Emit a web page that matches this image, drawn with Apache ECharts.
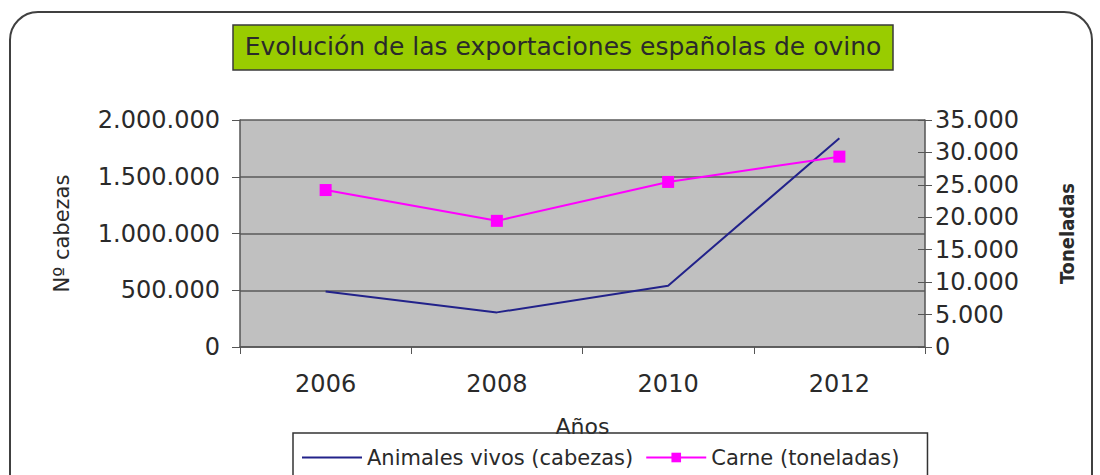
<!DOCTYPE html>
<html>
<head>
<meta charset="utf-8">
<script src="https://cdn.jsdelivr.net/npm/echarts@6/dist/echarts.min.js"></script>
<style>
  html, body { margin: 0; padding: 0; background: #fff; }
  #chart { width: 1100px; height: 475px; }
</style>
</head>
<body>
<div id="chart"></div>
<script>
// datos
const years = ['2006', '2008', '2010', '2012'];
const animalesVivos = [490000, 305000, 540000, 1840000];
const carneToneladas = [24200, 19450, 25450, 29350];
const leftTicks = [0, 2000000, 500000];   // min, max, intervalo
const rightTicks = [0, 35000, 5000];

function puntos(v) {
    return String(v).replace(/\B(?=(\d{3})+(?!\d))/g, '.');
}

const FONT = 'DejaVu Sans';
const TXT = '#2a2a2a';

let option = {
    animation: false,
    backgroundColor: '#fff',
    textStyle: { fontFamily: FONT },
    graphic: [
        {
            type: 'rect', z: -10,
            shape: { x: 10, y: 12, width: 1082, height: 520, r: 28 },
            style: { fill: '#fff', stroke: '#404040', lineWidth: 2 }
        },
        {
            type: 'rect', z: 1,
            shape: { x: 233, y: 25, width: 660, height: 45 },
            style: { fill: '#99cc00', stroke: '#3a3a3a', lineWidth: 1.5 }
        }
    ],
    title: {
        text: 'Evolución de las exportaciones españolas de ovino',
        left: 563,
        top: 34,
        textAlign: 'center',
        padding: 0,
        z: 5,
        textStyle: { fontFamily: FONT, fontSize: 25, fontWeight: 'normal', color: TXT }
    },
    legend: {
        left: 293,
        top: 433,
        padding: [14, 28, 20, 8],
        itemGap: 12,
        itemWidth: 60,
        itemHeight: 12,
        borderColor: '#333',
        borderWidth: 1.5,
        textStyle: { fontFamily: FONT, fontSize: 21, color: TXT },
        data: [
            { name: 'Animales vivos (cabezas)', itemStyle: { color: 'rgba(0,0,0,0)', borderWidth: 0 } },
            'Carne (toneladas)'
        ]
    },
    grid: {
        left: 240, right: 175, top: 120, bottom: 128,
        show: true,
        backgroundColor: '#c0c0c0',
        borderWidth: 0
    },
    xAxis: {
        type: 'category',
        data: years,
        boundaryGap: true,
        name: 'Años',
        nameLocation: 'middle',
        nameGap: 68,
        nameTextStyle: { fontFamily: FONT, fontSize: 22, color: TXT },
        axisLine: { lineStyle: { color: '#555', width: 1.5 } },
        axisTick: { show: true, length: 7, lineStyle: { color: '#555' } },
        axisLabel: { margin: 25, fontSize: 24, color: TXT, fontFamily: FONT },
        splitLine: { show: false }
    },
    yAxis: [
        {
            type: 'value',
            position: 'left',
            min: leftTicks[0], max: leftTicks[1], interval: leftTicks[2],
            name: 'Nº cabezas',
            nameLocation: 'middle',
            nameRotate: 90,
            nameGap: 168,
            nameTextStyle: { fontFamily: FONT, fontSize: 21, color: TXT },
            axisLine: { show: true, lineStyle: { color: '#555', width: 1.5 } },
            axisTick: { show: true, length: 8, lineStyle: { color: '#555' } },
            axisLabel: { margin: 20, fontSize: 24, color: TXT, fontFamily: FONT, formatter: puntos },
            splitLine: { show: true, lineStyle: { color: '#5a5a5a', width: 1.5 } }
        },
        {
            type: 'value',
            position: 'right',
            min: rightTicks[0], max: rightTicks[1], interval: rightTicks[2],
            name: 'Toneladas',
            nameLocation: 'middle',
            nameRotate: 90,
            nameGap: 132,
            nameTextStyle: { fontFamily: 'DejaVu Sans Condensed', fontSize: 20, fontWeight: 'bold', color: TXT },
            axisLine: { show: true, lineStyle: { color: '#555', width: 1.5 } },
            axisTick: { show: true, length: 7, lineStyle: { color: '#555' } },
            axisLabel: { margin: 10, fontSize: 24, color: TXT, fontFamily: FONT, formatter: puntos },
            splitLine: { show: false }
        },
        {
            // marcas hacia dentro del eje derecho
            type: 'value',
            position: 'right',
            min: rightTicks[0], max: rightTicks[1], interval: rightTicks[2],
            axisLine: { show: false },
            axisTick: { show: true, inside: true, length: 7, lineStyle: { color: '#555' } },
            axisLabel: { show: false },
            splitLine: { show: false }
        }
    ],
    series: [
        {
            name: 'Animales vivos (cabezas)',
            type: 'line',
            yAxisIndex: 0,
            data: animalesVivos,
            symbol: 'none',
            color: '#22228a',
            lineStyle: { color: '#22228a', width: 2 }
        },
        {
            name: 'Carne (toneladas)',
            type: 'line',
            yAxisIndex: 1,
            data: carneToneladas,
            symbol: 'rect',
            symbolSize: 12,
            color: '#ff00ff',
            itemStyle: { color: '#ff00ff' },
            lineStyle: { color: '#ff00ff', width: 2 }
        }
    ]
};

let myChart = echarts.init(document.getElementById('chart'), null, { renderer: 'svg' });
myChart.setOption(option, true);
</script>
</body>
</html>
